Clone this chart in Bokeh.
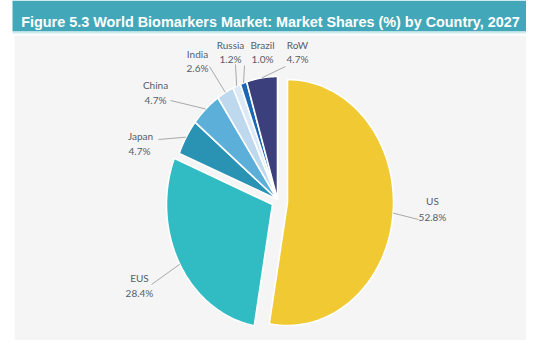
import numpy as np
from bokeh.plotting import figure
from bokeh.models import Range1d, BoxAnnotation, ColumnDataSource, Label
from bokeh.core.properties import value
from bokeh.embed import file_html
from bokeh.resources import INLINE

# ---------------- data ----------------
title_text = "Figure 5.3 World Biomarkers Market: Market Shares (%) by Country, 2027"
countries = ["US", "EUS", "Japan", "China", "India", "Russia", "Brazil", "RoW"]
shares = [52.8, 28.4, 4.7, 4.7, 2.6, 1.2, 1.0, 4.7]

# ---------------- style / layout ----------------
slice_colors = {
    "US": "#F1C932", "EUS": "#31BCC4", "Japan": "#2A92B3", "China": "#5BAFD8",
    "India": "#BED8EE", "Russia": "#DDE9F5", "Brazil": "#1B67B4", "RoW": "#3B3F7C",
}
W, H = 526, 340

# pie geometry (picture px)
CX, CY, RX, RY = 277, 199, 106, 123
explode = {"US": (10, 3), "EUS": (-5, 5)}

# label layout: name centre, value centre, leader end (picture px)
label_layout = {
    "US": ((432, 200), (432, 216), (418, 219)),
    "EUS": ((139, 277), (139, 292), (151, 284)),
    "Japan": ((140, 135), (139, 150), (158, 139)),
    "China": ((155, 84), (155, 99), (170, 100)),
    "India": ((197, 53), (197, 67), (209, 66)),
    "Russia": ((230, 44), (230, 58), (235, 64)),
    "Brazil": ((262, 44), (262, 58), (244, 65)),
    "RoW": ((297, 44), (297, 58), (285, 66)),
}

p = figure(width=W, height=H, output_backend="svg", toolbar_location=None,
           x_range=Range1d(0, W), y_range=Range1d(H, 0),
           min_border=0, border_fill_color="white", background_fill_color="white",
           outline_line_color=None)
p.axis.visible = False
p.grid.visible = False

# title bar and panel
p.add_layout(BoxAnnotation(left=12, right=530, top=0, bottom=31,
                           fill_color="#42A8B9", fill_alpha=1, line_color=None, level="underlay"))
p.add_layout(BoxAnnotation(left=12, right=530, top=31, bottom=33,
                           fill_color="#CFEAEF", fill_alpha=1, line_color=None, level="underlay"))
p.add_layout(BoxAnnotation(left=14, right=529, top=35, bottom=345,
                           fill_color="#F5F5F5", fill_alpha=1, line_color=None, level="underlay"))

p.add_layout(Label(x=270, y=21.5, text=title_text, text_align="center",
                   text_baseline="alphabetic", text_font="Liberation Sans",
                   text_font_style="bold", text_font_size="14.4px", text_color="white"))

# pie slices (clockwise from 12 o'clock)
total = float(sum(shares))
fr = np.array(shares) / total
ends = 90 - 360 * np.cumsum(fr)
starts = np.concatenate([[90.0], ends[:-1]])

xs, ys, fills = [], [], []
lx, ly = [], []
for c, a0, a1 in zip(countries, starts, ends):
    dx, dy = explode.get(c, (0, 0))
    cx, cy = CX + dx, CY + dy
    th = np.radians(np.linspace(a0, a1, 80))
    xs.append(list(np.concatenate([[cx], cx + RX * np.cos(th)])))
    ys.append(list(np.concatenate([[cy], cy - RY * np.sin(th)])))
    fills.append(slice_colors[c])
    mid = np.radians((a0 + a1) / 2)
    sx, sy = cx + RX * np.cos(mid), cy - RY * np.sin(mid)
    ex, ey = label_layout[c][2]
    lx.append([sx, ex])
    ly.append([sy, ey])

p.patches(xs, ys, fill_color=fills, line_color="white", line_width=1.6)
p.multi_line(lx, ly, line_color="#A9A9A9", line_width=1)

name_src = ColumnDataSource(dict(
    x=[label_layout[c][0][0] for c in countries],
    y=[label_layout[c][0][1] for c in countries],
    t=countries))
val_src = ColumnDataSource(dict(
    x=[label_layout[c][1][0] for c in countries],
    y=[label_layout[c][1][1] for c in countries],
    t=[f"{v:.1f}%" for v in shares]))
for src in (name_src, val_src):
    p.text(x="x", y="y", text="t", source=src, text_align="center", text_baseline="middle",
           text_font=value("Lato"), text_font_size=value("10px"), text_color="#565D68")

open("out.html", "w").write(file_html(p, INLINE))
